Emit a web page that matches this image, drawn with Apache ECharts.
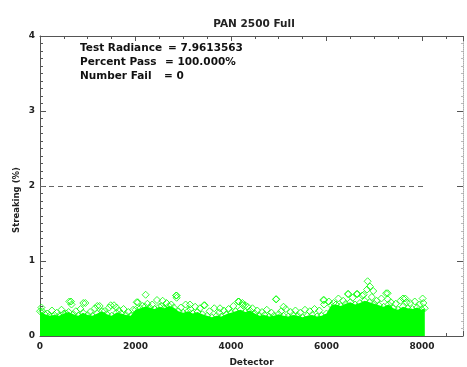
<!DOCTYPE html>
<html><head><meta charset="utf-8">
<script src="https://cdn.jsdelivr.net/npm/echarts@6/dist/echarts.min.js"></script>
<style>html,body{margin:0;padding:0;background:#fff}#c{width:467px;height:367px}</style>
</head><body><div id="c"></div>
<script>
// Upper edge of the solid band of points, one value per 100 detectors (0..8000), plus last detector
const bandDetectors = [];
for (let d = 0; d <= 8000; d += 100) bandDetectors.push(d);
bandDetectors.push(8060);
const bandTop = [
  0.33,0.29,0.27,0.28,0.27,0.30,0.32,0.29,0.27,0.31,0.28,0.27,0.30,0.33,0.29,0.27,0.31,0.30,0.28,0.27,
  0.35,0.37,0.39,0.38,0.36,0.39,0.37,0.40,0.38,
  0.33,0.31,0.33,0.30,0.32,0.29,0.27,
  0.25,0.27,0.26,0.29,0.31,
  0.33,0.35,0.32,0.34,0.30,
  0.27,0.28,0.26,0.27,0.29,0.27,0.26,0.28,0.27,0.25,0.27,0.28,0.26,0.27,0.30,
  0.41,0.42,0.40,0.43,0.45,0.42,0.44,0.47,0.45,0.43,
  0.41,0.39,0.42,0.37,0.35,0.39,0.37,0.36,0.38,0.35,
  0.37
];
// Points poking above the band, one per 100 detectors at 50, 150, ..., 7950
const peakDetectors = [];
for (let d = 50; d < 8000; d += 100) peakDetectors.push(d);
const peakValues = [
  0.33,0.30,0.34,0.31,0.35,0.30,0.46,0.33,0.36,0.44,0.32,0.37,0.40,0.33,0.38,0.41,0.34,0.36,0.32,0.35,
  0.45,0.40,0.43,0.42,0.48,0.40,0.44,0.42,
  0.54,0.38,0.42,0.36,0.39,0.37,0.41,
  0.33,0.37,0.31,0.34,0.36,
  0.40,0.46,0.41,0.39,0.37,
  0.34,0.32,0.35,0.31,0.49,0.33,0.36,0.32,0.34,0.31,0.35,0.33,0.36,0.34,0.48,
  0.46,0.44,0.50,0.47,0.56,0.51,0.56,0.54,0.62,0.52,
  0.47,0.50,0.57,0.45,0.43,0.47,0.50,0.44,0.46,0.42
];
// Isolated points above the band: [detector, streaking %]
const outliers = [
  [30,0.38],[614,0.46],[660,0.42],[907,0.44],[1200,0.40],[1480,0.41],[1600,0.38],
  [2025,0.45],[2213,0.55],[2569,0.47],[2862,0.54],[2862,0.51],[3141,0.42],[3435,0.41],
  [3770,0.37],[4168,0.46],[4240,0.44],[4300,0.41],[4942,0.49],[5100,0.39],[5934,0.48],[5950,0.42],
  [6457,0.56],[6632,0.56],[6780,0.55],[6862,0.73],[6911,0.66],[6981,0.60],[7282,0.57],[7282,0.49],
  [7603,0.50],[7680,0.45],[8014,0.50],[8030,0.44]
];
const title = 'PAN 2500 Full';
const infoLabels = ['Test Radiance', 'Percent Pass', 'Number Fail'];
const infoValues = ['= 7.9613563', '= 100.000%', '= 0'];
const thresholdValue = 2;
const thresholdEnd = 8100;
const xMax = 8860, yMax = 4;

const green = '#00ff00';
const axisColor = '#555';
const F = '"DejaVu Sans"';
const bandData = bandDetectors.map((d, i) => [d, bandTop[i]]);
const peakData = peakDetectors.map((d, i) => [d, peakValues[i]]);

const chart = echarts.init(document.getElementById('c'), null, {renderer: 'canvas'});
const graphics = [
  {type:'text', x:254, y:24, style:{text:title, font:'bold 10.5px ' + F, fill:'#222', align:'center', verticalAlign:'middle'}},
  {type:'text', x:17, y:200, rotation:Math.PI/2, style:{text:'Streaking (%)', font:'bold 8.5px ' + F, fill:'#222', align:'center', verticalAlign:'middle'}}
];
const eqX = [168, 165, 164];
infoLabels.forEach((t, i) => {
  graphics.push({type:'text', x:80, y:48 + i*14, style:{text:t, font:'bold 10.5px ' + F, fill:'#111', verticalAlign:'middle'}});
  graphics.push({type:'text', x:eqX[i], y:48 + i*14, style:{text:infoValues[i], font:'bold 10.5px ' + F, fill:'#111', verticalAlign:'middle'}});
});
const diamondStyle = {color:'rgba(0,0,0,0)', borderColor:green, borderWidth:1};
chart.setOption({
  animation:false,
  backgroundColor:'#fff',
  textStyle:{fontFamily:'DejaVu Sans'},
  graphic:graphics,
  grid:{left:40, right:4, top:36, bottom:31, outerBoundsMode:'none', containLabel:false},
  xAxis:[{
    type:'value', min:0, max:xMax, interval:2000,
    name:'Detector', nameLocation:'middle', nameGap:22,
    nameTextStyle:{fontWeight:'bold', fontSize:9, color:'#222'},
    axisLine:{onZero:false, lineStyle:{color:axisColor}},
    axisTick:{inside:true, length:5, lineStyle:{color:axisColor}},
    minorTick:{show:true, splitNumber:4, length:3, lineStyle:{color:axisColor}},
    axisLabel:{fontWeight:'bold', fontSize:9, color:'#222', margin:6, showMaxLabel:false, formatter:v => String(v)},
    splitLine:{show:false}
  },{
    type:'value', position:'top', min:0, max:xMax, interval:2000,
    axisLine:{show:true, onZero:false, lineStyle:{color:axisColor}},
    axisTick:{inside:true, length:5, lineStyle:{color:axisColor}},
    minorTick:{show:true, splitNumber:4, length:3, lineStyle:{color:axisColor}},
    axisLabel:{show:false}, splitLine:{show:false}
  }],
  yAxis:[{
    type:'value', min:0, max:yMax, interval:1,
    axisLine:{show:true, onZero:false, lineStyle:{color:axisColor}},
    axisTick:{show:true, inside:true, length:6, lineStyle:{color:axisColor}},
    minorTick:{show:true, splitNumber:10, length:3, lineStyle:{color:axisColor}},
    axisLabel:{fontWeight:'bold', fontSize:9, color:'#222', margin:5},
    splitLine:{show:false}
  },{
    type:'value', position:'right', min:0, max:yMax, interval:1,
    axisLine:{show:true, onZero:false, lineStyle:{color:'#aaa', type:'dotted'}},
    axisTick:{show:true, inside:true, length:6, lineStyle:{color:axisColor}},
    minorTick:{show:true, splitNumber:10, length:2, lineStyle:{color:'#bbb'}},
    axisLabel:{show:false}, splitLine:{show:false}
  }],
  series:[
    {type:'line', data:bandData, symbol:'none', lineStyle:{width:0}, areaStyle:{color:green, opacity:1}, z:2},
    {type:'scatter', data:bandData, symbol:'diamond', symbolSize:7, itemStyle:diamondStyle, z:3},
    {type:'scatter', data:peakData, symbol:'diamond', symbolSize:7, itemStyle:diamondStyle, z:3},
    {type:'scatter', data:outliers, symbol:'diamond', symbolSize:7, itemStyle:diamondStyle, z:3,
      markLine:{silent:true, symbol:'none', label:{show:false},
        lineStyle:{color:'#666', type:[5,4], width:1},
        data:[[{coord:[0, thresholdValue]},{coord:[thresholdEnd, thresholdValue]}]]}}
  ]
});
</script></body></html>
